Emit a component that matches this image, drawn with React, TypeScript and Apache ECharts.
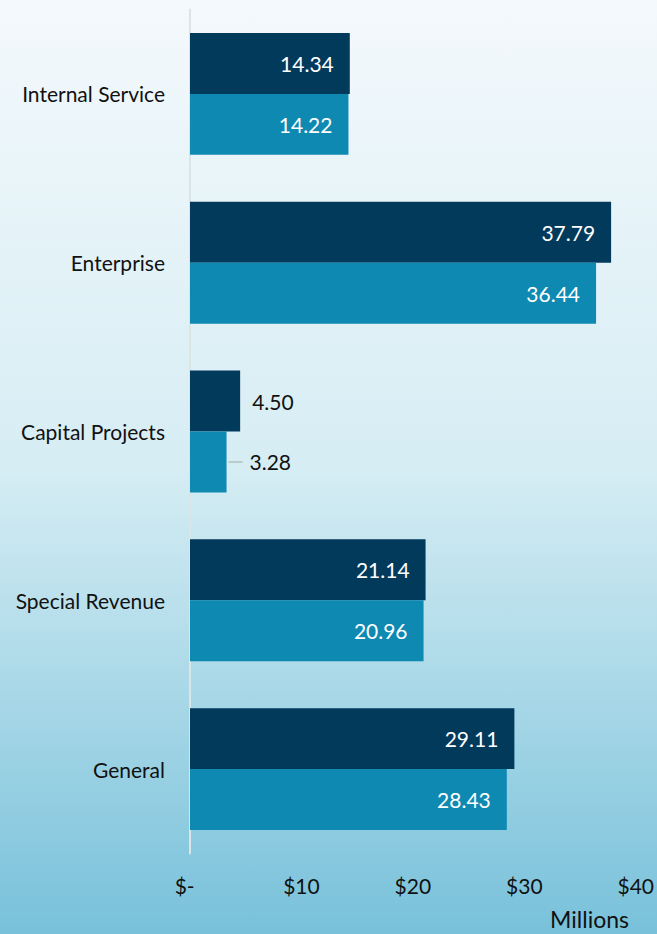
import React, { useEffect, useRef } from "react";
import * as echarts from "echarts";

const categories = ["Internal Service", "Enterprise", "Capital Projects", "Special Revenue", "General"];
const seriesDark = [14.34, 37.79, 4.5, 21.14, 29.11];
const seriesTeal = [14.22, 36.44, 3.28, 20.96, 28.43];
const axisName = "Millions";

const FONT = "Lato, 'Open Sans', sans-serif";
const FS = 21;

export default function App() {
  const ref = useRef<HTMLDivElement>(null);
  useEffect(() => {
    if (!ref.current) return;
    const chart = echarts.init(ref.current, undefined, { renderer: "svg" });
    const insideLabel = {
      show: true,
      position: "insideRight",
      distance: 16,
      color: "#ffffff",
      fontSize: FS,
      fontFamily: FONT,
      formatter: (p: any) => p.value.toFixed(2),
    };
    const mkData = (vals: number[], small: boolean) =>
      vals.map((v) =>
        v < 10
          ? {
              value: v,
              label: {
                show: true,
                position: "right",
                distance: small ? 2 : 12,
                color: "#111111",
                fontSize: FS,
                fontFamily: FONT,
                formatter: small ? "{l|}{v|" + v.toFixed(2) + "}" : v.toFixed(2),
                rich: {
                  l: { width: 14, height: 2, backgroundColor: "#b9cccc" },
                  v: { fontSize: FS, fontFamily: FONT, color: "#111111", padding: [0, 0, 0, 7] },
                },
              },
            }
          : { value: v }
      );
    chart.setOption({
      animation: false,
      grid: { left: 190, right: 19, top: 9.5, bottom: 80.5, containLabel: false },
      xAxis: {
        type: "value",
        min: 0,
        max: 40,
        interval: 10,
        splitLine: { show: false },
        axisLine: { show: false },
        axisTick: { show: false },
        axisLabel: {
          margin: 21,
          fontSize: FS,
          fontFamily: FONT,
          color: "#111111",
          formatter: (v: number) => (v === 0 ? "$-  " : "$" + v),
        },
      },
      yAxis: {
        type: "category",
        data: categories,
        inverse: true,
        axisLine: { show: true, lineStyle: { color: "#dbe5e6", width: 2 } },
        axisTick: { show: false },
        axisLabel: { margin: 25, fontSize: FS, fontFamily: FONT, color: "#111111", padding: [0, 0, 4, 0] },
      },
      series: [
        {
          type: "bar",
          data: mkData(seriesDark, false),
          itemStyle: { color: "#023a5c" },
          barGap: "0%",
          barCategoryGap: "27.8%",
          label: insideLabel,
        },
        {
          type: "bar",
          data: mkData(seriesTeal, true),
          itemStyle: { color: "#0e89b2" },
          barGap: "0%",
          barCategoryGap: "27.8%",
          label: insideLabel,
        },
      ],
      graphic: [
        {
          type: "text",
          right: 28,
          top: 907,
          style: { text: axisName, fontSize: 23, fontFamily: FONT, fill: "#111111" },
        },
      ],
    });
    return () => chart.dispose();
  }, []);
  return (
    <div
      style={{
        position: "fixed",
        left: 0,
        top: 0,
        width: 657,
        height: 934,
        background: "linear-gradient(to bottom, #f4f9fc 0%, #d6edf4 50%, #78c1da 100%)",
      }}
    >
      <div ref={ref} style={{ width: 657, height: 934 }} />
    </div>
  );
}
